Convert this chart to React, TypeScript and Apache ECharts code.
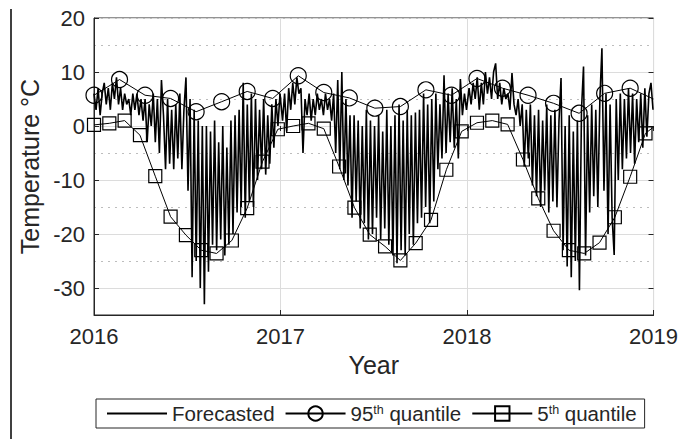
import React, { useEffect, useRef } from "react";
import * as echarts from "echarts";

const FONT = "'Liberation Sans', Arial, Helvetica, sans-serif";
const AXIS_COLOR = "#262626";

const xTicks = [2016, 2017, 2018, 2019];
const seriesNames = ["Forecasted", "95th quantile", "5th quantile"];

// Forecasted temperature, one value every 4 days within each year
const forecastStepDays = 4;
const forecast2016 = [
  6, 3, 7, 2, 6, 8, 4, 7, 3, 8, 5, 9, 4, 7, 3, 6, 4, 5, 2, 6,
  3, 6, 2, 5, 1, 5, -3, 4, 0, 6, -3, 5, -5, 8.5, 2, -8, 5, -7, 3, -8,
  4, -6, 6, -8, 3, 9, -12, 5, -28, 3, -25, 1, -30, 0, -33, 0, -27, -1, -22, 1,
  -23, -3, -21, 0, -24, -4, -22, 1, -20, 2, -16, 3, -15, 8, -17, 4, -14, 6, -15, 5,
  -10, 3, -8, 5, -9, 2, -7, 4, -4, 5, 0, 6,
];
const forecast2017 = [
  5, 1, 6, -1, 7, 3, 8, 4, 9, 6, 7, -5, 5, 2, 6, 1, 5, 2, 6, 3,
  5, 2, 6, 3, 5, 1, 6, -5, 8.5, -8, 10, -10, 5, -11, 2, -17, 2, -14, 1, -19,
  0, -18, 3, -21, 1, -20, 0, -17, 2, -21, -1, -19, 3, -22, 0, -24, 2, -25.4, 4, -23,
  1, -24, 3, -20, 2, -22, 2.5, -18, 3, -17, 6, -15, 4, -18, 5, -14, 6, -8, 4, -6,
  9.4, -5, 6, -3, 7, -4, 5, -6, 8.7, 2, 6, 3,
];
const forecast2018 = [
  3, 7, 4, 8, 5, 9, 3, 8, 4, 10, 6, 9, 5, 10, 11.6, 5, 8, 4, 7, 5,
  6, 3, 9.8, 4, 2, 5, 0, 4, -7.5, 3, -6, 4, -11, 2, -13, 3, -15, 1, -12, 4,
  -16, 2, -14, 3, -15, 1, 8.9, -23, 0, -26, 2, -28, -1, -25, 1, -30.4, 3, 11, -24, 2,
  -16, 4, -13, 3, -15, 5, 14.4, -12, 6, -20, 4, -17, -23.9, 5, -10, 6, -8, 5, -6, 7,
  -5, 6, -7, 5, -3, 6, -4, 7, -2, 6, 8, 3,
];

// 95th quantile: one value every 50 days from 1 Jan 2016, then the value at 2019
const q95StepDays = 50;
const q95Values = [
  5.7, 8.6, 5.7, 5.1, 2.65, 4.5, 6.4, 5.1, 9.3, 6.2, 5.2, 3.3, 3.6, 6.7, 5.7, 8.8,
  7.0, 5.7, 4.2, 2.35, 6.05, 7.0,
];
const q95End = 5.0;

// 5th quantile: one value every 30 days from 1 Jan 2016, then the value at 2019
const q5StepDays = 30;
const q5Values = [
  0.2, 0.5, 1.0, -1.7, -9.3, -16.8, -20.2, -23.0, -23.6, -21.2, -15.2, -6.6,
  -0.6, 0.0, 0.5, -0.5, -7.5, -15.1, -20.1, -22.3, -24.9, -21.7, -17.4, -8.1,
  -1.0, 0.6, 1.0, 0.3, -6.2, -13.4, -19.4, -23.0, -23.6, -21.6, -16.9, -9.4, -1.35,
];
const q5End = -0.2;

const START = 2016;
const END = 2019;
const YEAR_DAYS = 365.25;

function buildForecast(): number[][] {
  const out: number[][] = [];
  const years: [number, number[]][] = [
    [2016, forecast2016],
    [2017, forecast2017],
    [2018, forecast2018],
  ];
  years.forEach(([yr, arr]) => {
    arr.forEach((v, k) => out.push([yr + (k * forecastStepDays) / 365, v]));
  });
  return out;
}

function buildQuantile(values: number[], step: number, endValue: number) {
  const out: any[] = values.map((v, i) => ({ value: [START + (i * step) / YEAR_DAYS, v] }));
  out.push({ value: [END, endValue], symbol: "none" });
  return out;
}

export default function App() {
  const ref = useRef<HTMLDivElement>(null);

  useEffect(() => {
    document.body.style.margin = "0";
    if (!ref.current) return;
    const chart = echarts.init(ref.current, null, { renderer: "svg" });

    const tickLine = { color: AXIS_COLOR, width: 1 };
    const hidden = { color: "rgba(0,0,0,0)", borderColor: "rgba(0,0,0,0)", borderWidth: 0 };

    chart.setOption({
      animation: false,
      backgroundColor: "#fff",
      textStyle: { fontFamily: FONT },
      grid: {
        left: 94,
        right: 26,
        top: 18,
        bottom: 124,
        show: true,
        borderColor: AXIS_COLOR,
        borderWidth: 1,
      },
      graphic: [
        {
          type: "line",
          shape: { x1: 11, y1: 9, x2: 11, y2: 439 },
          style: { stroke: "#000", lineWidth: 1.5 },
          silent: true,
        },
      ],
      legend: {
        show: true,
        left: 96,
        top: 399,
        orient: "horizontal",
        itemWidth: 60,
        itemHeight: 18,
        itemGap: 10,
        padding: [4, 8, 4, 10],
        borderColor: AXIS_COLOR,
        borderWidth: 1,
        selectedMode: false,
        data: [
          { name: seriesNames[0], itemStyle: hidden },
          { name: seriesNames[1] },
          { name: seriesNames[2] },
        ],
        textStyle: {
          fontSize: 20.5,
          color: AXIS_COLOR,
          fontFamily: FONT,
          rich: {
            sup: { fontSize: 12.5, color: AXIS_COLOR, fontFamily: FONT, verticalAlign: "top" },
          },
        },
        formatter: (name: string) => {
          const m = name.match(/^(\d+)th (.*)$/);
          if (m) return `${m[1]}{sup|th} ${m[2]}`;
          return name;
        },
      },
      xAxis: [
        {
          type: "value",
          min: START,
          max: END,
          interval: 1,
          position: "bottom",
          axisLine: { show: true, onZero: false, lineStyle: tickLine },
          axisTick: { show: true, inside: true, length: 5, lineStyle: tickLine },
          axisLabel: {
            fontSize: 22,
            color: AXIS_COLOR,
            margin: 10,
            formatter: (v: number) => (xTicks.includes(v) ? String(v) : ""),
          },
          splitLine: { show: true, lineStyle: { color: "#dcdcdc", width: 1 } },
          name: "Year",
          nameLocation: "middle",
          nameGap: 37,
          nameTextStyle: { fontSize: 25, color: AXIS_COLOR },
        },
        {
          type: "value",
          min: START,
          max: END,
          interval: 1,
          position: "top",
          axisLine: { show: false },
          axisTick: { show: true, inside: true, length: 5, lineStyle: tickLine },
          axisLabel: { show: false },
          splitLine: { show: false },
        },
      ],
      yAxis: [
        {
          type: "value",
          min: -35,
          max: 20,
          splitNumber: 5,
          position: "left",
          axisLine: { show: true, onZero: false, lineStyle: tickLine },
          axisTick: { show: true, inside: true, length: 5, lineStyle: tickLine },
          axisLabel: {
            fontSize: 22,
            color: AXIS_COLOR,
            margin: 9,
            formatter: (v: number) => (v % 10 === 0 ? String(v) : ""),
          },
          splitLine: { show: true, lineStyle: { color: "#dcdcdc", width: 1 } },
          name: "Temperature °C",
          nameLocation: "middle",
          nameGap: 52,
          nameTextStyle: { fontSize: 25, color: AXIS_COLOR },
        },
        {
          type: "value",
          min: -35,
          max: 20,
          splitNumber: 5,
          position: "right",
          axisLine: { show: false },
          axisTick: { show: true, inside: true, length: 5, lineStyle: tickLine },
          axisLabel: { show: false },
          splitLine: { show: false },
        },
        {
          type: "value",
          min: -35,
          max: 20,
          interval: 10,
          position: "right",
          axisLine: { show: false },
          axisTick: { show: false },
          axisLabel: { show: false },
          splitLine: { show: true, lineStyle: { color: "#bdbdbd", width: 1, type: [2, 5] } },
        },
      ],
      series: [
        {
          name: seriesNames[0],
          type: "line",
          data: buildForecast(),
          symbol: "none",
          showSymbol: false,
          lineStyle: { color: "#000", width: 1.6 },
          itemStyle: { color: "#000" },
          z: 2,
        },
        {
          name: seriesNames[1],
          type: "line",
          data: buildQuantile(q95Values, q95StepDays, q95End),
          symbol: "circle",
          symbolSize: 16,
          lineStyle: { color: "#000", width: 1 },
          itemStyle: { color: "rgba(255,255,255,0)", borderColor: "#000", borderWidth: 1.2 },
          z: 3,
        },
        {
          name: seriesNames[2],
          type: "line",
          data: buildQuantile(q5Values, q5StepDays, q5End),
          symbol: "rect",
          symbolSize: 13,
          lineStyle: { color: "#000", width: 1 },
          itemStyle: { color: "rgba(255,255,255,0)", borderColor: "#000", borderWidth: 1.2 },
          z: 3,
        },
      ],
    });

    return () => chart.dispose();
  }, []);

  return <div ref={ref} style={{ width: 681, height: 439 }} />;
}
